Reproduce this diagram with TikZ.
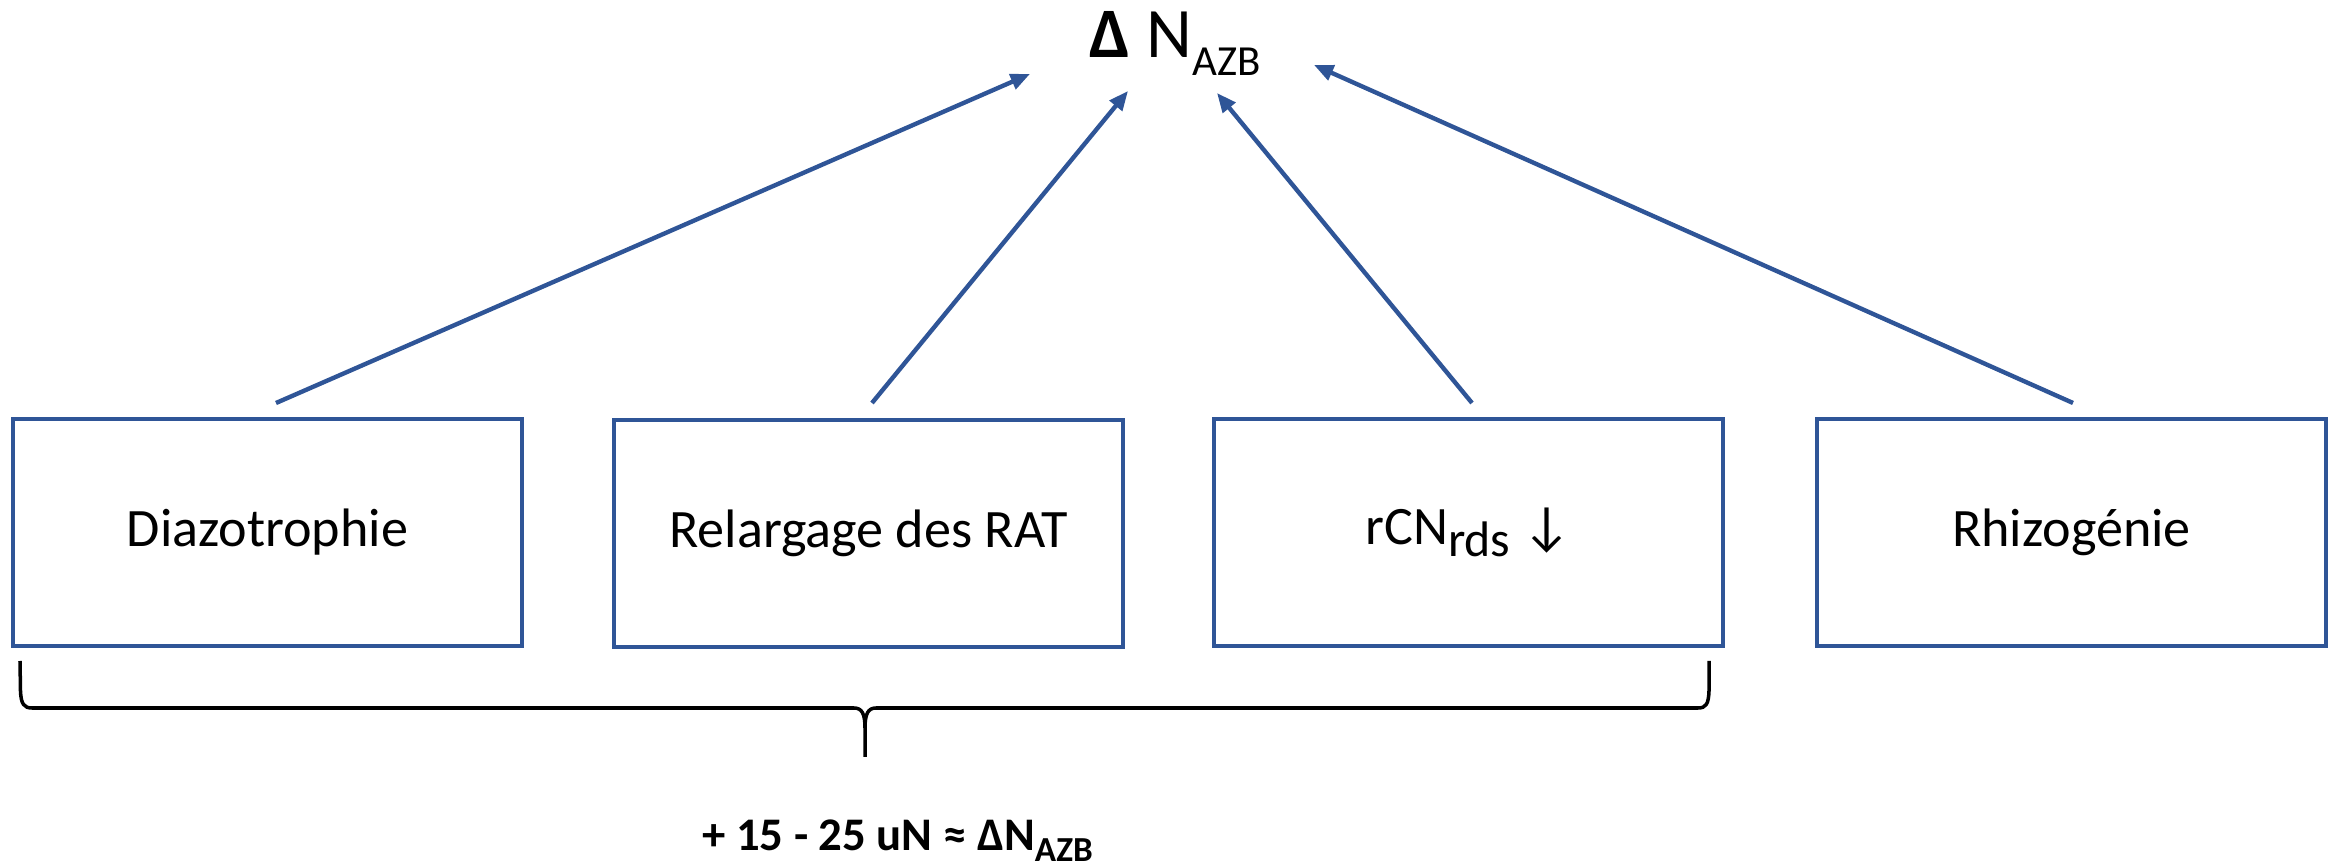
\documentclass[tikz,border=0pt]{standalone}
\usepackage{fontspec}
\setmainfont{Carlito}
\usetikzlibrary{arrows.meta}
\definecolor{boxblue}{RGB}{47,85,151}
\newcommand{\subtext}[3]{\raisebox{-#2}{\fontsize{#1}{#1}\selectfont #3}}

\begin{document}
\begin{tikzpicture}[
            box/.style={draw=boxblue, line width=1.2pt, minimum width=5.09cm, minimum height=2.27cm, inner sep=0pt, font=\fontsize{15.4}{18}\selectfont},
            link/.style={draw=boxblue, line width=1.25pt, -{Triangle[length=5.5pt, width=4.5pt]}}
            ]
            \useasboundingbox (0,0) rectangle (23.38,8.66);
            \node[anchor=base, font=\fontsize{20.2}{24}\selectfont] (nazb) at (11.75,8.08) {{\bfseries Δ} N\subtext{12.2pt}{5.1pt}{AZB}};
            \node[box] (diaz) at (2.675,3.335) {Diazotrophie};
            \node[box] (rel) at (8.685,3.325) {Relargage des RAT};
            \node[box] (rcn) at (14.685,3.335) {rCN\subtext{14.2pt}{3.4pt}{rds} ↓};
            \node[box] (rhiz) at (20.715,3.335) {Rhizogénie};

            \coordinate (s1) at (2.76,4.63);
            \coordinate (s2) at (8.72,4.63);
            \coordinate (s3) at (14.72,4.63);
            \coordinate (s4) at (20.73,4.63);
            \coordinate (t1) at (10.30,7.92);
            \coordinate (t2) at (11.28,7.75);
            \coordinate (t3) at (12.17,7.73);
            \coordinate (t4) at (13.14,8.01);

            \draw[link] (s1)--(t1);
            \draw[link] (s2)--(t2);
            \draw[link] (s3)--(t3);
            \draw[link] (s4)--(t4);

            % accolade
            \draw[line width=1pt] (0.20,2.05) -- (0.205,1.75) .. controls (0.21,1.62) and (0.24,1.58) .. (0.32,1.58) -- (8.54,1.58) .. controls (8.62,1.58) and (8.65,1.52) .. (8.65,1.38) -- (8.65,1.09);
            \draw[line width=1pt] (8.65,1.38) .. controls (8.65,1.52) and (8.68,1.58) .. (8.76,1.58) -- (16.98,1.58) .. controls (17.06,1.58) and (17.085,1.62) .. (17.09,1.75) -- (17.09,2.05);
            \node[anchor=base, font=\fontsize{13.3}{16}\selectfont\bfseries] (total) at (8.975,0.15) {+ 15 - 25 uN ≈ ΔN\subtext{10pt}{3pt}{AZB}};
\end{tikzpicture}
\end{document}
